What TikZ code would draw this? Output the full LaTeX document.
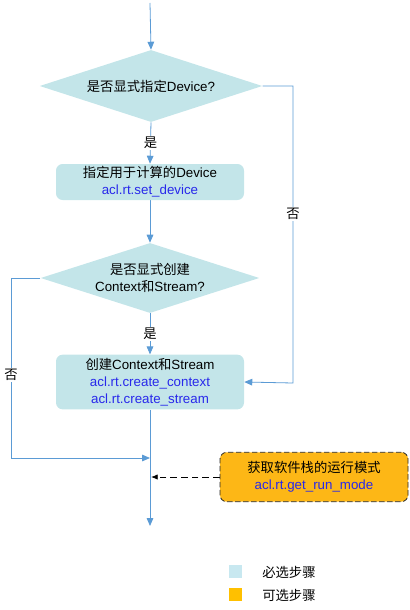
\documentclass[tikz,border=0pt]{standalone}
\usepackage{fontspec}
\setmainfont{Liberation Sans}
\newfontfamily\cjk{Noto Sans CJK SC}
\usetikzlibrary{shapes.geometric,arrows.meta}
\pgfdeclarelayer{edgelayer}
\pgfdeclarelayer{nodelayer}
\pgfsetlayers{edgelayer,nodelayer,main}
\definecolor{stepblue}{RGB}{195,229,233}
\definecolor{steporange}{RGB}{253,183,22}
\definecolor{legendblue}{RGB}{200,232,240}
\definecolor{legendorange}{RGB}{255,192,0}
\definecolor{flowline}{RGB}{91,155,213}
\definecolor{apiblue}{RGB}{40,40,235}
\newcommand{\zh}[1]{{\cjk #1}}
\newcommand{\api}[1]{\textcolor{apiblue}{#1}}
\tikzset{font=\fontsize{10}{12.75}\selectfont}
\tikzstyle{none}=[inner sep=0pt]
\tikzstyle{decision}=[diamond,aspect=3.1,fill=stepblue,inner sep=0pt,align=center]
\tikzstyle{stepbox}=[rectangle,rounded corners=5pt,fill=stepblue,inner sep=0pt,minimum width=141pt,align=center]
\tikzstyle{optbox}=[rectangle,rounded corners=5pt,fill=steporange,draw=black!85,line width=0.6pt,dash pattern=on 4pt off 2pt,inner sep=0pt,minimum width=141pt,minimum height=37pt,align=center]
\tikzstyle{flow}=[draw=flowline,line width=0.6pt]
\tikzstyle{flowarrow}=[flow,-{Triangle[length=6pt,width=5pt]}]
\tikzstyle{branch}=[fill=white,inner sep=1pt]
\tikzstyle{key}=[rectangle,inner sep=0pt,minimum size=10pt]

\begin{document}
\begin{tikzpicture}[x=0.75pt,y=-0.75pt]
	\useasboundingbox (0,0) rectangle (410,610);
	\begin{pgfonlayer}{nodelayer}
		\coordinate (0) at (150,3);
		\node [style=decision,minimum width=167pt,minimum height=54pt] (1) at (151,86) {\zh{是否显式指定}Device?};
		\node [style=stepbox,minimum height=27pt] (2) at (150,182) {\zh{指定用于计算的}Device\\ \api{acl.rt.set\_device}};
		\node [style=decision,minimum width=164pt,minimum height=52.5pt] (3) at (150,278) {\zh{是否显式创建}\\ Context\zh{和}Stream?};
		\node [style=stepbox,minimum height=41pt] (4) at (150,382) {\zh{创建}Context\zh{和}Stream\\ \api{acl.rt.create\_context}\\ \api{acl.rt.create\_stream}};
		\node [style=optbox] (5) at (314,477) {\zh{获取软件栈的运行模式}\\ \api{acl.rt.get\_run\_mode}};
		\coordinate (6) at (293,86);
		\coordinate (7) at (293,383);
		\coordinate (8) at (11,278);
		\coordinate (9) at (11,458);
		\coordinate (10) at (150,458);
		\coordinate (11) at (151,477);
		\coordinate (12) at (150,526);
		\node [style=key,fill=legendblue] (13) at (235.5,571.5) {};
		\node [style=key,fill=legendorange] (14) at (235.5,594.5) {};
		\node [style=none,anchor=west] (15) at (262,572) {\zh{必选步骤}};
		\node [style=none,anchor=west] (16) at (262,595) {\zh{可选步骤}};
	\end{pgfonlayer}
	\begin{pgfonlayer}{edgelayer}
		\draw [style=flowarrow] (0) to (1.north);
		\draw [style=flowarrow] (1.south) to node [style=branch] {\zh{是}} (2.north);
		\draw [style=flowarrow] (2.south) to (3.north);
		\draw [style=flowarrow] (3.south) to node [style=branch] {\zh{是}} (4.north);
		\draw [style=flowarrow] (1.east) -- (6) -- node [style=branch,pos=0.43] {\zh{否}} (7) -- (4.east);
		\draw [style=flowarrow] (3.west) -- (8) -- node [style=branch,pos=0.54] {\zh{否}} (9) -- (10);
		\draw [style=flowarrow] (4.south) to (12);
		\draw [line width=0.6pt,dash pattern=on 5pt off 3pt,-{Latex[length=5pt,width=4pt]}] (5.west) to (11);
	\end{pgfonlayer}
\end{tikzpicture}
\end{document}
